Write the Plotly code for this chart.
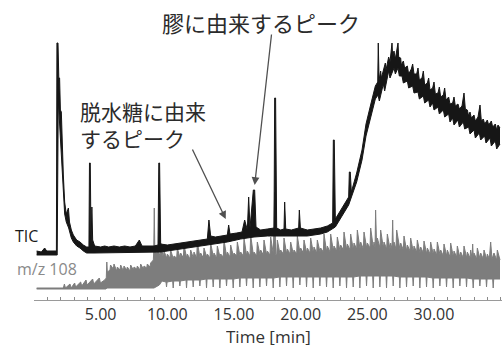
import plotly.graph_objects as go

# ---- data (time in min, intensity in arbitrary units) ----
tic_upper = [
    (0.20, 49), (0.55, 48), (0.80, 52), (0.95, 49), (1.68, 49), (1.72, 257), (1.80, 257), (1.86, 222),
    (1.92, 222), (1.98, 190), (2.05, 188), (2.12, 150), (2.20, 125), (2.30, 98), (2.42, 86), (2.58, 92),
    (2.66, 78), (2.80, 70), (2.95, 65), (3.20, 60), (3.45, 58), (3.70, 55), (3.95, 53), (4.12, 53),
    (4.16, 137), (4.22, 137), (4.28, 55), (4.34, 93), (4.40, 60), (4.55, 54), (5.0, 53), (5.3, 54),
    (5.6, 53), (6.0, 54), (6.4, 53), (6.8, 54), (7.2, 53), (7.6, 54), (7.9, 60), (8.1, 54), (8.6, 54),
    (9.0, 54), (9.30, 55), (9.36, 137), (9.42, 137), (9.50, 56), (10.0, 55), (10.5, 56), (11.0, 57),
    (11.5, 58), (12.0, 59), (12.5, 60), (13.0, 61), (13.12, 80), (13.25, 64), (13.6, 63), (14.0, 64),
    (14.5, 65), (14.6, 75), (14.7, 66), (15.2, 67), (15.6, 68), (15.8, 80), (16.0, 70), (16.1, 103),
    (16.2, 72), (16.45, 110), (16.55, 110), (16.65, 73), (17.0, 70), (17.5, 71), (18.0, 72), (18.05, 202),
    (18.12, 202), (18.2, 72), (18.5, 70), (18.75, 71), (18.8, 98), (18.88, 71), (19.3, 70), (19.85, 72),
    (19.9, 90), (19.98, 72), (20.5, 70), (21.0, 71), (21.5, 72), (22.0, 74), (22.4, 77), (22.45, 160),
    (22.52, 160), (22.6, 81), (23.0, 90), (23.3, 96), (23.6, 103), (23.65, 128), (23.72, 128), (23.8, 108),
    (24.2, 127), (24.6, 150), (24.9, 176), (25.3, 198), (25.6, 214), (25.78, 218), (25.82, 257), (25.88, 220),
    (26.0, 229), (26.05, 222), (26.2, 231), (26.35, 237), (26.4, 230), (26.6, 243), (26.7, 238), (26.8, 248),
    (26.85, 257), (26.9, 244), (27.0, 249), (27.1, 241), (27.2, 248), (27.3, 257), (27.35, 243), (27.5, 242),
    (27.55, 235), (27.7, 239), (27.8, 232), (28.0, 234), (28.1, 226), (28.3, 231), (28.4, 236), (28.5, 226),
    (28.7, 226), (28.8, 232), (28.9, 220), (29.1, 222), (29.2, 229), (29.3, 215), (29.5, 217), (29.6, 222),
    (29.7, 210), (29.9, 212), (30.0, 218), (30.1, 206), (30.3, 207), (30.4, 213), (30.5, 203), (30.7, 205),
    (30.8, 212), (30.9, 200), (31.1, 203), (31.2, 196), (31.4, 197), (31.5, 203), (31.6, 194), (31.8, 196),
    (31.9, 191), (32.1, 194), (32.25, 207), (32.35, 191), (32.5, 190), (32.6, 184), (32.7, 188), (32.8, 182),
    (33.0, 185), (33.1, 179), (33.3, 183), (33.45, 195), (33.55, 179), (33.7, 181), (33.8, 176), (34.0, 180),
    (34.1, 175), (34.3, 179), (34.4, 173), (34.6, 176), (34.7, 170), (34.8, 175), (34.95, 172),
]

tic_lower = [
    (0.20, 45), (1.74, 45), (1.82, 200), (1.92, 175), (2.05, 140), (2.12, 118), (2.20, 103), (2.30, 86),
    (2.42, 78), (2.60, 72), (2.80, 62), (2.95, 58), (3.20, 54), (3.45, 52), (3.70, 49), (3.95, 47),
    (4.5, 47), (9.0, 48), (9.5, 48), (10.5, 50), (11.5, 52), (12.5, 54), (13.5, 56), (14.5, 58),
    (15.5, 61), (16.5, 63), (17.5, 64), (19.0, 64), (20.5, 64), (21.5, 66), (22.0, 68), (22.6, 73),
    (23.0, 82), (23.3, 89), (23.6, 95), (24.2, 118), (24.6, 140), (24.9, 164), (25.3, 184), (25.6, 201),
    (25.8, 205), (25.9, 199), (26.2, 216), (26.3, 209), (26.6, 229), (26.7, 222), (27.0, 232), (27.1, 226),
    (27.3, 232), (27.4, 224), (27.6, 224), (27.7, 217), (28.0, 219), (28.1, 212), (28.4, 214), (28.5, 207),
    (28.8, 208), (28.9, 201), (29.2, 204), (29.3, 197), (29.6, 200), (29.7, 193), (29.9, 197), (30.0, 190),
    (30.3, 193), (30.4, 186), (30.7, 190), (30.8, 183), (31.1, 186), (31.2, 178), (31.4, 182), (31.5, 175),
    (31.8, 180), (31.9, 173), (32.2, 178), (32.3, 171), (32.6, 173), (32.7, 166), (33.0, 170), (33.1, 162),
    (33.4, 167), (33.5, 160), (33.8, 164), (33.9, 157), (34.2, 162), (34.3, 154), (34.6, 159), (34.7, 151),
    (34.95, 156),
]

mz_upper = [
    (0.20, 12), (2.20, 12), (2.28, 16), (2.36, 12), (2.70, 16), (2.78, 12), (3.05, 17), (3.12, 13),
    (3.50, 18), (3.58, 14), (3.90, 20), (3.98, 15), (4.40, 21), (4.48, 16), (4.90, 22), (4.98, 17),
    (5.30, 20), (5.42, 22), (5.46, 38), (5.50, 28), (5.70, 30), (5.74, 35), (5.95, 31), (6.00, 36),
    (6.20, 29), (6.25, 33), (6.45, 30), (6.50, 35), (6.70, 29), (6.75, 34), (6.95, 30), (7.00, 33),
    (7.20, 29), (7.25, 35), (7.45, 30), (7.50, 33), (7.70, 31), (7.75, 34), (7.95, 30), (8.00, 36),
    (8.20, 31), (8.25, 34), (8.45, 32), (8.50, 36), (8.70, 33), (8.75, 37), (8.95, 40), (8.98, 48),
    (9.02, 92), (9.06, 50), (9.20, 46), (9.25, 52), (9.45, 44), (9.50, 57), (9.70, 42), (9.75, 49),
    (9.95, 42), (10.00, 46), (10.20, 42), (10.25, 50), (10.45, 41), (10.50, 44), (10.70, 42), (10.75, 52),
    (10.95, 42), (11.00, 47), (11.20, 42), (11.25, 55), (11.45, 42), (11.50, 46), (11.70, 41), (11.75, 50),
    (11.95, 42), (12.00, 48), (12.20, 42), (12.25, 58), (12.45, 42), (12.50, 47), (12.70, 42), (12.75, 52),
    (12.95, 43), (13.00, 46), (13.20, 42), (13.25, 57), (13.45, 43), (13.50, 47), (13.70, 42), (13.75, 54),
    (13.95, 43), (14.00, 46), (14.20, 43), (14.25, 60), (14.45, 43), (14.50, 48), (14.70, 43), (14.75, 55),
    (14.95, 44), (15.00, 47), (15.20, 44), (15.25, 58), (15.45, 44), (15.50, 48), (15.70, 44), (15.75, 62),
    (15.95, 44), (16.00, 49), (16.20, 44), (16.25, 65), (16.45, 45), (16.50, 48), (16.70, 44), (16.75, 58),
    (16.95, 45), (17.00, 50), (17.20, 45), (17.25, 60), (17.45, 45), (17.50, 49), (17.70, 45), (17.75, 63),
    (17.95, 46), (18.05, 108), (18.12, 46), (18.20, 45), (18.25, 60), (18.45, 46), (18.50, 50), (18.70, 46),
    (18.75, 62), (18.95, 46), (19.00, 51), (19.20, 46), (19.25, 58), (19.45, 46), (19.50, 50), (19.70, 46),
    (19.75, 64), (19.95, 47), (20.00, 52), (20.20, 47), (20.25, 60), (20.45, 47), (20.50, 52), (20.70, 47),
    (20.75, 62), (20.95, 47), (21.00, 53), (21.20, 47), (21.25, 60), (21.45, 48), (21.50, 52), (21.70, 48),
    (21.75, 66), (21.95, 48), (22.00, 54), (22.20, 48), (22.25, 66), (22.45, 49), (22.50, 54), (22.70, 49),
    (22.75, 63), (22.95, 49), (23.00, 55), (23.20, 50), (23.25, 68), (23.45, 50), (23.50, 56), (23.70, 50),
    (23.75, 66), (23.95, 50), (24.00, 57), (24.20, 51), (24.25, 70), (24.45, 51), (24.50, 58), (24.70, 51),
    (24.75, 68), (24.95, 52), (25.00, 57), (25.20, 52), (25.25, 72), (25.45, 52), (25.50, 58), (25.58, 52),
    (25.62, 90), (25.70, 52), (25.75, 62), (25.95, 52), (26.00, 70), (26.20, 52), (26.25, 58), (26.45, 51),
    (26.50, 66), (26.70, 51), (26.75, 57), (26.85, 51), (26.90, 80), (26.95, 51), (27.00, 58), (27.15, 51),
    (27.20, 70), (27.45, 50), (27.50, 57), (27.70, 50), (27.75, 64), (27.95, 49), (28.00, 55), (28.20, 49),
    (28.25, 62), (28.45, 48), (28.50, 54), (28.70, 48), (28.75, 60), (28.95, 47), (29.00, 53), (29.20, 47),
    (29.25, 59), (29.45, 46), (29.50, 52), (29.70, 46), (29.75, 58), (29.95, 45), (30.00, 51), (30.20, 45),
    (30.25, 58), (30.45, 45), (30.50, 50), (30.70, 44), (30.75, 56), (30.95, 44), (31.00, 50), (31.20, 43),
    (31.25, 57), (31.45, 43), (31.50, 49), (31.70, 43), (31.75, 54), (31.95, 42), (32.00, 48), (32.20, 42),
    (32.25, 54), (32.45, 42), (32.50, 48), (32.70, 42), (32.75, 50), (32.85, 42), (32.90, 56), (32.95, 42),
    (33.00, 47), (33.20, 41), (33.25, 52), (33.45, 41), (33.50, 47), (33.70, 41), (33.75, 50), (33.95, 41),
    (34.00, 46), (34.15, 41), (34.25, 58), (34.35, 41), (34.50, 47), (34.70, 40), (34.75, 50), (34.95, 40),
]

mz_lower = [
    (0.20, 11), (5.40, 11), (5.46, 12), (9.0, 12), (9.4, 15), (9.6, 19),
    (9.9, 18), (9.94, 13), (9.98, 18), (10.4, 19), (10.44, 12), (10.48, 19), (10.9, 19), (10.94, 14), (10.98, 19),
    (11.4, 20), (11.44, 12), (11.48, 20), (11.9, 20), (11.94, 13), (11.98, 20), (12.4, 20), (12.44, 14), (12.48, 20),
    (12.9, 21), (12.94, 12), (12.98, 21), (13.4, 21), (13.44, 13), (13.48, 21), (13.9, 21), (13.94, 12), (13.98, 21),
    (14.4, 21), (14.44, 14), (14.48, 21), (14.9, 21), (14.94, 12), (14.98, 21), (15.4, 22), (15.44, 13), (15.48, 22),
    (15.9, 22), (15.94, 14), (15.98, 22), (16.4, 22), (16.44, 12), (16.48, 22), (16.9, 22), (16.94, 13), (16.98, 22),
    (17.4, 22), (17.44, 14), (17.48, 22), (17.9, 22), (17.94, 12), (17.98, 22), (18.4, 23), (18.44, 13), (18.48, 23),
    (18.9, 23), (18.94, 14), (18.98, 23), (19.4, 23), (19.44, 12), (19.48, 23), (19.9, 23), (19.94, 15), (19.98, 23),
    (20.4, 23), (20.44, 13), (20.48, 23), (20.9, 23), (20.94, 12), (20.98, 23), (21.4, 23), (21.44, 14), (21.48, 23),
    (21.9, 23), (21.94, 13), (21.98, 23), (22.4, 23), (22.44, 12), (22.48, 23), (22.9, 23), (22.94, 14), (22.98, 23),
    (23.4, 23), (23.44, 12), (23.48, 23), (23.9, 23), (23.94, 13), (23.98, 23), (24.4, 24), (24.44, 12), (24.48, 24),
    (24.9, 24), (24.94, 14), (24.98, 24), (25.4, 24), (25.44, 12), (25.48, 24), (25.9, 24), (25.94, 13), (25.98, 24),
    (26.4, 24), (26.44, 12), (26.48, 24), (26.9, 24), (26.94, 14), (26.98, 24), (27.4, 23), (27.44, 12), (27.48, 23),
    (27.9, 23), (27.94, 13), (27.98, 23), (28.4, 23), (28.44, 14), (28.48, 23), (28.9, 23), (28.94, 12), (28.98, 23),
    (29.4, 23), (29.44, 13), (29.48, 23), (29.9, 22), (29.94, 12), (29.98, 22), (30.4, 22), (30.44, 14), (30.48, 22),
    (30.9, 22), (30.94, 13), (30.98, 22), (31.4, 22), (31.44, 12), (31.48, 22), (31.9, 22), (31.94, 14), (31.98, 22),
    (32.4, 22), (32.44, 13), (32.48, 22), (32.9, 21), (32.94, 12), (32.98, 21), (33.4, 21), (33.44, 14), (33.48, 21),
    (33.9, 21), (33.94, 13), (33.98, 21), (34.4, 21), (34.44, 12), (34.48, 21), (34.95, 21),
]

tick_vals = [5, 10, 15, 20, 25, 30]
tick_text = ["5.00", "10.00", "15.00", "20.00", "25.00", "30.00"]

TIC_COLOR = "#161616"
MZ_COLOR = "#7d7d7d"


def split(pairs):
    return [p[0] for p in pairs], [p[1] for p in pairs]


fig = go.Figure()
for lower, upper, col in [(mz_lower, mz_upper, MZ_COLOR), (tic_lower, tic_upper, TIC_COLOR)]:
    lx, ly = split(lower)
    ux, uy = split(upper)
    fig.add_trace(go.Scatter(x=lx, y=ly, mode="lines", line=dict(color=col, width=1), hoverinfo="skip"))
    fig.add_trace(go.Scatter(x=ux, y=uy, mode="lines", fill="tonexty", fillcolor=col,
                             line=dict(color=col, width=1), hoverinfo="skip"))

L = 34
W = 502
PW = W - L
PH = 300


def px(x):
    return (x - L) / PW


def py(y):
    return (PH - y) / PH


txt = "#2b2b2b"
ann = [
    dict(x=px(261), y=py(22), text="膠に由来するピーク", xanchor="center", yanchor="middle",
         font=dict(size=22, color=txt, family="Noto Sans CJK JP")),
    dict(x=px(78), y=py(125), text="脱水糖に由来<br>するピーク", xanchor="left", yanchor="middle",
         align="left", font=dict(size=21, color=txt, family="Noto Sans CJK JP")),
    dict(x=px(26), y=py(236), text="TIC", xanchor="center", yanchor="middle",
         font=dict(size=16, color="#1a1a1a", family="Open Sans")),
    dict(x=px(47), y=py(269), text="m/z 108", xanchor="center", yanchor="middle",
         font=dict(size=16, color="#8a8a8a", family="Open Sans")),
    dict(x=px(268), y=py(336), text="Time [min]", xanchor="center", yanchor="middle", height=18,
         font=dict(size=17, color="#333333", family="Open Sans")),
]
for a in ann:
    a.update(xref="paper", yref="paper", showarrow=False)

arrows = [
    dict(x=14.38, y=81, ax=-34, ay=-71),
    dict(x=16.55, y=115, ax=17, ay=-152),
]
for a in arrows:
    ann.append(dict(x=a["x"], y=a["y"], ax=a["ax"], ay=a["ay"], xref="x", yref="y",
                    axref="pixel", ayref="pixel", text="", showarrow=True,
                    arrowhead=2, arrowsize=1.2, arrowwidth=1.3, arrowcolor="#505050",
                    standoff=0))

fig.update_layout(
    width=502, height=347,
    margin=dict(l=L, r=0, t=0, b=47),
    paper_bgcolor="white", plot_bgcolor="white",
    showlegend=False,
    annotations=ann,
    xaxis=dict(range=[0, 35.1], tickvals=tick_vals, ticktext=tick_text,
               showgrid=False, zeroline=False, showline=True, linecolor="#9a9a9a",
               linewidth=1, ticks="inside", ticklen=3, tickcolor="#8a8a8a",
               minor=dict(dtick=1, tick0=0, ticks="inside", ticklen=3, tickcolor="#8a8a8a"),
               tickfont=dict(size=16, color="#333333", family="Open Sans")),
    yaxis=dict(range=[0, 300], visible=False, showgrid=False, zeroline=False),
)

fig.write_html("out.html", config={"displayModeBar": False},
               post_script="document.body.style.margin='0px';document.body.style.overflow='hidden';")
